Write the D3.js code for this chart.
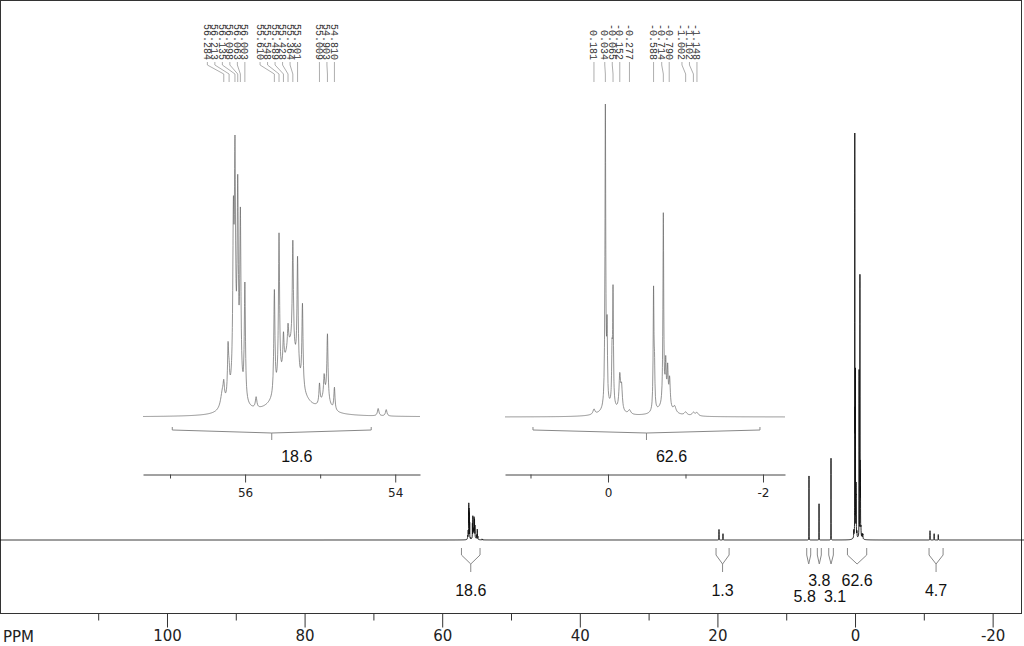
<!DOCTYPE html>
<html><head><meta charset="utf-8">
<script src="https://cdn.jsdelivr.net/npm/d3@7"></script>
<style>body{margin:0;background:#fff} svg{display:block}</style>
</head><body>
<svg id="c" width="1024" height="646"></svg>
<script>
// ---------- DATA ----------
// lines: [ppm, relative intensity (tallest ~ 100), half width (ppm)]
const peaks56 = [
  [56.284, 0.40, 0.009], [56.227, 1.53, 0.009], [56.213, 0.57, 0.009],
  [56.156, 4.66, 0.009], [56.135, 6.50, 0.009], [56.098, 5.64, 0.009],
  [56.063, 5.22, 0.009], [56.003, 3.60, 0.009], [55.853, 0.34, 0.012],
  [55.610, 3.24, 0.009], [55.548, 4.68, 0.009], [55.489, 1.00, 0.009],
  [55.428, 0.70, 0.009], [55.364, 3.38, 0.009], [55.301, 3.50, 0.009],
  [55.236, 2.60, 0.009], [55.009, 0.62, 0.009], [54.947, 0.62, 0.009],
  [54.903, 2.00, 0.009], [54.810, 0.70, 0.009], [54.227, 0.23, 0.012],
  [54.120, 0.20, 0.012]
];
const peaks0 = [
  [0.181, 1.6, 0.015], [0.034, 92.7, 0.006], [0.012, 22.4, 0.006],
  [-0.052, 14.4, 0.006], [-0.065, 35.1, 0.006], [-0.152, 10.5, 0.012],
  [-0.175, 7.0, 0.012], [-0.277, 1.3, 0.020], [-0.588, 36.7, 0.006],
  [-0.600, 11.2, 0.006], [-0.714, 59.1, 0.006], [-0.745, 12.8, 0.008],
  [-0.770, 11.2, 0.008], [-0.795, 8.9, 0.010], [-0.860, 1.9, 0.020],
  [-1.002, 1.0, 0.020], [-1.102, 1.0, 0.020], [-1.148, 1.0, 0.020]
];
const peaksOther = [
  [19.77, 2.5, 0.01], [19.19, 1.5, 0.01],
  [6.69, 15.2, 0.006], [5.23, 8.6, 0.006], [3.49, 19.4, 0.006],
  [-10.9, 2.2, 0.01], [-11.5, 1.5, 0.01], [-12.1, 1.3, 0.01]
];
const humps = [
  [56.30, 0.56, 0.03], [56.12, 1.12, 0.07], [55.40, 2.16, 0.13], [54.93, 0.50, 0.06],
  [-0.03, 2.56, 0.12], [-0.72, 2.56, 0.12]
];

const labels56 = [56.284, 56.213, 56.135, 56.098, 56.063, 56.003, 55.610, 55.548,
                  55.489, 55.428, 55.364, 55.301, 55.009, 54.903, 54.810];
const labels0 = [0.181, 0.034, -0.065, -0.152, -0.277, -0.588, -0.714, -0.790,
                 -1.002, -1.102, -1.148];

const integralFrom   = [57.2, 20.2, 7.02, 5.48, 3.82, 1.10, -10.76];
const integralTo     = [54.5, 18.3, 6.44, 4.90, 3.15, -1.70, -12.80];
const integralValues = ["18.6", "1.3", "5.8", "3.8", "3.1", "62.6", "4.7"];
const integralRow    = [0, 0, 1, -1, 1, -1, 0];

const insetFrom   = [56.97, 0.968];
const insetTo     = [54.32, -1.961];
const insetValues = ["18.6", "62.6"];

const mainMajorTicks = [100, 80, 60, 40, 20, 0, -20];
const mainMinorTicks = [110, 90, 70, 50, 30, 10, -10];
const leftMajorTicks = [56, 54];
const leftMinorTicks = [57, 55];
const rightMajorTicks = [0, -2];
const rightMinorTicks = [1, -1];

// ---------- RENDER ----------
const svg = d3.select("#c");
const allPeaks = peaks56.concat(peaks0, peaksOther, humps);
const intensity = p => d3.sum(allPeaks, ([c, h, w]) => h / (1 + ((p - c) / w) ** 2));

function curve(scale) {
  const [d0, d1] = scale.domain();
  const lo = Math.min(d0, d1), hi = Math.max(d0, d1);
  const pxPer = Math.abs(scale.range()[1] - scale.range()[0]) / (hi - lo);
  const step = 0.5 / pxPer;
  const pts = d3.range(lo, hi + step / 2, step);
  const ks = [-8, -4, -2, -1, -0.5, -0.25, 0, 0.25, 0.5, 1, 2, 4, 8];
  allPeaks.forEach(([c, h, w]) => ks.forEach(k => {
    const p = c + k * w; if (p >= lo && p <= hi) pts.push(p);
  }));
  pts.sort((a, b) => a - b);
  return pts.map(p => [p, intensity(p)]);
}

const xMain = d3.scaleLinear().domain([124.27, -24.56]).range([0, 1024]);
const xLeft = d3.scaleLinear().domain([57.36, 53.67]).range([143, 420]);
const xRight = d3.scaleLinear().domain([1.329, -2.284]).range([505, 785]);

const mainData = curve(xMain);
const leftData = curve(xLeft);
const rightData = curve(xRight);

const yMain = d3.scaleLinear().domain([0, d3.max(mainData, d => d[1])]).range([540, 133]);
const yLeft = d3.scaleLinear().domain([0, d3.max(leftData, d => d[1])]).range([417, 135]);
const yRight = d3.scaleLinear().domain([0, d3.max(rightData, d => d[1])]).range([417, 104]);

// frame
svg.append("rect").attr("x", 0.5).attr("y", 0.5).attr("width", 1021).attr("height", 613)
  .attr("fill", "none").attr("stroke", "#333").attr("stroke-width", 1);

// main spectrum
svg.append("path").datum(mainData)
  .attr("d", d3.line().x(d => xMain(d[0])).y(d => yMain(d[1])))
  .attr("fill", "none").attr("stroke", "#111").attr("stroke-width", 0.9);

// insets
[[leftData, xLeft, yLeft], [rightData, xRight, yRight]].forEach(([data, xs, ys]) => {
  svg.append("path").datum(data)
    .attr("d", d3.line().x(d => xs(d[0])).y(d => ys(d[1])))
    .attr("fill", "none").attr("stroke", "#666").attr("stroke-width", 0.7);
});

// main axis
const axG = svg.append("g").attr("transform", "translate(0,613.5)");
axG.append("g").call(d3.axisBottom(xMain).tickValues(mainMinorTicks).tickSize(7).tickSizeOuter(0).tickFormat(""))
  .call(g => g.select(".domain").remove());
axG.append("g").call(d3.axisBottom(xMain).tickValues(mainMajorTicks).tickSize(14).tickSizeOuter(0)
    .tickPadding(3).tickFormat(d => String(d)))
  .call(g => g.select(".domain").remove());
axG.selectAll(".tick line").attr("stroke", "#333");
axG.selectAll(".tick text").attr("font-family", "DejaVu Sans").attr("font-size", 15).attr("fill", "#222");
svg.append("text").attr("x", 3).attr("y", 642).text("PPM")
  .attr("font-family", "DejaVu Sans").attr("font-size", 15).attr("fill", "#222");

// inset axes
[[xLeft, leftMajorTicks, leftMinorTicks], [xRight, rightMajorTicks, rightMinorTicks]].forEach(([xs, maj, min]) => {
  const g = svg.append("g").attr("transform", "translate(0,474.5)");
  g.append("g").call(d3.axisBottom(xs).tickValues(min).tickSize(4).tickSizeOuter(0).tickFormat(""));
  g.append("g").call(d3.axisBottom(xs).tickValues(maj).tickSize(8).tickSizeOuter(0)
      .tickPadding(6).tickFormat(d => String(d)))
    .call(gg => gg.select(".domain").remove());
  g.selectAll(".domain,.tick line").attr("stroke", "#444");
  g.selectAll(".tick text").attr("font-family", "DejaVu Sans").attr("font-size", 12).attr("fill", "#222");
});

// inset integrals
[xLeft, xRight].forEach((xs, i) => {
  const x1 = xs(insetFrom[i]), x2 = xs(insetTo[i]), xm = (x1 + x2) / 2;
  svg.append("path")
    .attr("d", `M${x1},427V430L${xm},433L${x2},430V427M${xm},433V440`)
    .attr("fill", "none").attr("stroke", "#888").attr("stroke-width", 1);
  svg.append("text").attr("x", xm + 25).attr("y", 462).attr("text-anchor", "middle")
    .attr("font-family", "Liberation Sans").attr("font-size", 16).attr("fill", "#111")
    .text(insetValues[i]);
});

// main integrals
const intItems = integralValues.map((v, i) => {
  const x1 = xMain(integralFrom[i]), x2 = xMain(integralTo[i]);
  return { v, row: integralRow[i], x1, x2, xm: (x1 + x2) / 2, lx: (x1 + x2) / 2 };
});
// push apart labels on the same row that would collide
[-1, 0, 1].forEach(r => {
  const row = intItems.filter(d => d.row === r).sort((a, b) => a.xm - b.xm);
  for (let k = 1; k < row.length; k++) {
    const a = row[k - 1], b = row[k];
    const need = (a.v.length + b.v.length) * 4.4 + 4;
    const have = b.lx - a.lx;
    if (have < need) { const s = (need - have) / 2; a.lx -= s; b.lx += s; }
  }
});
intItems.forEach(it => {
  let d = `M${it.x1},548V555L${it.xm},564L${it.x2},555V548`;
  if (it.row === 0) d += `M${it.xm},564V572`;
  svg.append("path").attr("d", d).attr("fill", "none").attr("stroke", "#888").attr("stroke-width", 1);
  const y = it.row === 0 ? 596 : (it.row < 0 ? 586 : 602);
  svg.append("text").attr("x", it.lx).attr("y", y).attr("text-anchor", "middle")
    .attr("font-family", "Liberation Sans").attr("font-size", 16).attr("fill", "#111").text(it.v);
});

// peak labels
function peakLabels(labels, xs) {
  const items = labels.map(v => ({ v, px: xs(v) })).sort((a, b) => a.px - b.px);
  const gap = 7.5;
  for (let i = items.length - 1; i >= 0; i--) {
    items[i].lx = i === items.length - 1 ? items[i].px : Math.min(items[i].px, items[i + 1].lx - gap);
  }
  items.forEach(it => {
    svg.append("path")
      .attr("d", `M${it.lx},62V65L${it.px},74V82`)
      .attr("fill", "none").attr("stroke", "#999").attr("stroke-width", 0.8);
    svg.append("text")
      .attr("transform", `translate(${it.lx},60) rotate(90)`)
      .attr("text-anchor", "end").attr("dy", "0.35em")
      .attr("font-family", "Liberation Mono").attr("font-size", 10).attr("fill", "#333")
      .text(it.v.toFixed(3));
  });
}
peakLabels(labels56, xLeft);
peakLabels(labels0, xRight);
</script>
</body></html>
